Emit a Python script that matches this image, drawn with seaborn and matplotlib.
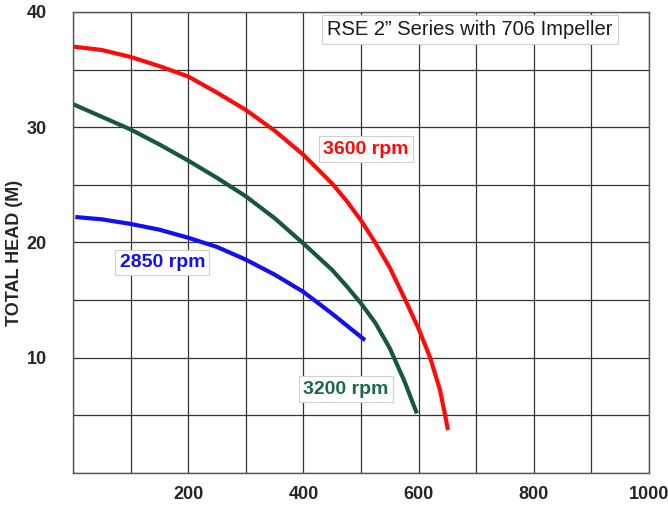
import numpy as np
import pandas as pd
import seaborn as sns
import matplotlib
matplotlib.use("Agg")
import matplotlib.pyplot as plt

# flow vs total head
flow_3600 = [0, 50, 100, 150, 200, 250, 300, 350, 400, 450, 475, 500, 525, 550, 576, 600, 620, 637, 646, 651]
head_3600 = [37.0, 36.7, 36.1, 35.3, 34.4, 33.0, 31.5, 29.7, 27.6, 25.1, 23.6, 21.9, 19.95, 17.8, 15.1, 12.5, 10.0, 7.2, 5.0, 3.7]

flow_3200 = [0, 50, 100, 150, 200, 250, 300, 350, 400, 450, 475, 500, 525, 550, 575, 597]
head_3200 = [32.0, 30.9, 29.8, 28.5, 27.1, 25.6, 24.0, 22.1, 19.9, 17.6, 16.2, 14.7, 13.0, 10.8, 8.0, 5.15]

flow_2850 = [4, 50, 100, 150, 200, 250, 300, 350, 400, 450, 507]
head_2850 = [22.2, 22.0, 21.6, 21.1, 20.4, 19.6, 18.5, 17.2, 15.7, 13.8, 11.5]

speeds = ["3600 rpm", "3200 rpm", "2850 rpm"]
colors = {"3600 rpm": "#ff0a0a", "3200 rpm": "#17573a", "2850 rpm": "#1010f2"}
label_colors = {"3600 rpm": "#ff0a0a", "3200 rpm": "#1b6a45", "2850 rpm": "#1010f2"}
label_pos = {"3600 rpm": (508, 28.1), "3200 rpm": (474, 7.25), "2850 rpm": (155, 18.25)}

title_text = "RSE 2\u201d Series with 706 Impeller"
x_ticks = list(range(0, 1001, 100))
x_labels = ["", "", "200", "", "400", "", "600", "", "800", "", "1000"]
y_ticks = list(range(0, 41, 5))
y_labels = ["", "", "10", "", "20", "", "30", "", "40"]

df = pd.concat([
    pd.DataFrame({"flow": flow_3600, "head": head_3600, "speed": "3600 rpm"}),
    pd.DataFrame({"flow": flow_3200, "head": head_3200, "speed": "3200 rpm"}),
    pd.DataFrame({"flow": flow_2850, "head": head_2850, "speed": "2850 rpm"}),
], ignore_index=True)

sns.set_style("white")
plt.rcParams["font.family"] = ["Liberation Sans", "DejaVu Sans"]

fig = plt.figure(figsize=(6.68, 5.05), dpi=100)
ax = fig.add_axes([73 / 668, 1 - 472.7 / 505, 576 / 668, 460.7 / 505])
ax.set_axisbelow(True)

sns.lineplot(data=df, x="flow", y="head", hue="speed", hue_order=speeds,
             palette=colors, sort=False, linewidth=3.0, legend=False,
             solid_capstyle="butt", solid_joinstyle="round", ax=ax)

ax.set_xlim(0, 1000)
ax.set_ylim(0, 40)
ax.set_xticks(x_ticks, x_labels)
ax.set_yticks(y_ticks, y_labels)
ax.grid(True, color="#333333", linewidth=0.9)
for s in ax.spines.values():
    s.set_color("#555555")
    s.set_linewidth(1.0)
ax.tick_params(axis="both", length=0, labelsize=13)
ax.tick_params(axis="y", pad=19)
ax.tick_params(axis="x", pad=9.5)
for t in ax.get_xticklabels() + ax.get_yticklabels():
    t.set_fontweight("bold")

ax.set_xlabel("")
ax.set_ylabel("TOTAL HEAD (M)", fontsize=13, fontweight="bold", va="center")
ax.yaxis.set_label_coords(-0.1016, 0.478)

for sp in speeds:
    x, y = label_pos[sp]
    ax.text(x, y, sp, color=label_colors[sp], fontsize=14, fontweight="bold",
            ha="center", va="center",
            bbox=dict(boxstyle="square,pad=0.22", fc="white", ec="#d0d0d0", lw=0.8))

ax.text(689, 38.45, title_text, color="#1a1a1a", fontsize=14.5, ha="center", va="center",
        bbox=dict(boxstyle="square,pad=0.25", fc="white", ec="#d0d0d0", lw=0.8))

fig.savefig("out.png", dpi=100)
